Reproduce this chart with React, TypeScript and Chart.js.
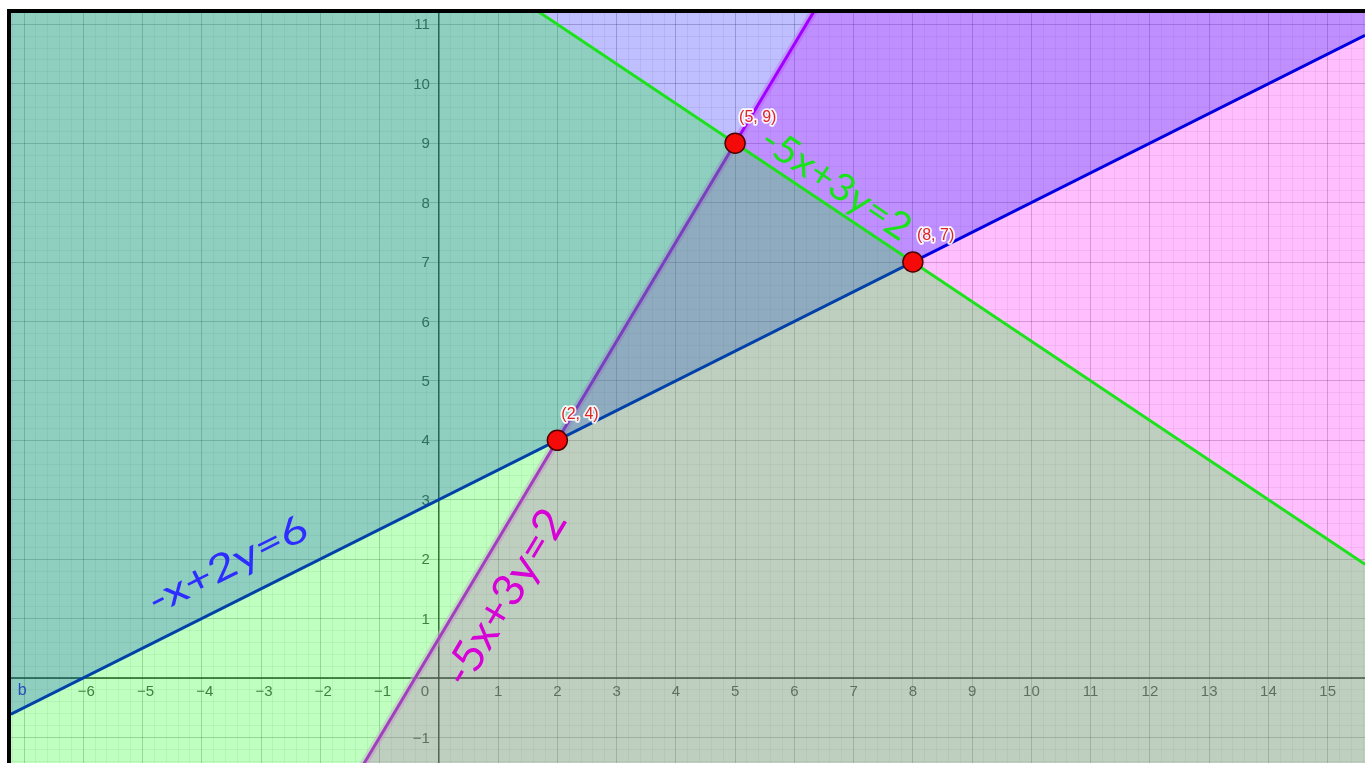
import React, { useEffect, useRef } from "react";
import { Chart, registerables } from "chart.js";

Chart.register(...registerables);

// visible window of the graph (data units)
const xView = [-7.22, 15.63];
const yView = [-1.43, 11.19];

// axis tick labels
const xTickValues = [-6, -5, -4, -3, -2, -1, 0, 1, 2, 3, 4, 5, 6, 7, 8, 9, 10, 11, 12, 13, 14, 15];
const yTickValues = [-1, 1, 2, 3, 4, 5, 6, 7, 8, 9, 10, 11];

// lines as [a, b, c] meaning a*x + b*y = c
const blueLine = [-1, 2, 6];
const purpleLine = [-5, 3, 2];
const greenLine = [2, 3, 37];

// intersection points
const vertexX = [2, 5, 8];
const vertexY = [4, 9, 7];
const vertexLabels = ["(2, 4)", "(5, 9)", "(8, 7)"];

// handwritten line labels
const lineLabelTexts = ["-x+2y=6", "-5x+3y=2", "-5x+3y=2"];

const endpoints = (coef: number[]) =>
  xView.map((x) => ({ x, y: (coef[2] - coef[0] * x) / coef[1] }));

const labelStyles = [
  { line: blueLine, cx: -3.56, cy: 1.9, len: 174, size: 38, color: "rgb(45,45,255)" },
  { line: purpleLine, cx: 1.12, cy: 1.35, len: 198, size: 44, color: "rgb(215,0,215)" },
  { line: greenLine, cx: 6.7, cy: 8.31, len: 172, size: 38, color: "rgb(25,228,25)" },
];

const decor = {
  id: "decor",
  beforeDatasetsDraw(chart: any) {
    const { ctx, chartArea: a, scales } = chart;
    const x = scales.x, y = scales.y;
    const x0 = x.getPixelForValue(0);
    const y0 = y.getPixelForValue(0);
    ctx.save();
    ctx.strokeStyle = "#2a2a2a";
    ctx.lineWidth = 1.3;
    ctx.beginPath();
    ctx.moveTo(a.left, y0);
    ctx.lineTo(a.right, y0);
    ctx.moveTo(x0, a.top);
    ctx.lineTo(x0, a.bottom);
    ctx.stroke();

    ctx.font = '15px "Liberation Sans", Arial, sans-serif';
    ctx.fillStyle = "#555";
    ctx.textAlign = "center";
    ctx.textBaseline = "middle";
    xTickValues.forEach((v) => {
      const t = v < 0 ? "\u2212" + Math.abs(v) : String(v);
      let px = x.getPixelForValue(v) + (v < 0 ? 3 : 0);
      if (v === 0) px = x0 - 14;
      ctx.fillText(t, px, y0 + 14);
    });
    ctx.textAlign = "right";
    yTickValues.forEach((v) => {
      const t = v < 0 ? "\u2212" + Math.abs(v) : String(v);
      ctx.fillText(t, x0 - 9, y.getPixelForValue(v) + 1);
    });
    ctx.restore();
  },
  afterDatasetsDraw(chart: any) {
    const { ctx, scales } = chart;
    const x = scales.x, y = scales.y;
    ctx.save();
    // "b" label near the left end of the x axis
    ctx.font = '16px "Liberation Sans", Arial, sans-serif';
    ctx.fillStyle = "rgb(40,75,190)";
    ctx.textAlign = "center";
    ctx.textBaseline = "middle";
    ctx.fillText("b", x.getPixelForValue(-7.03), y.getPixelForValue(0) + 13);

    // line labels
    labelStyles.forEach((s, i) => {
      const [aa, bb, cc] = s.line;
      const p1x = x.getPixelForValue(0), p1y = y.getPixelForValue(cc / bb);
      const p2x = x.getPixelForValue(1), p2y = y.getPixelForValue((cc - aa) / bb);
      const ang = Math.atan2(p2y - p1y, p2x - p1x);
      ctx.save();
      ctx.translate(x.getPixelForValue(s.cx), y.getPixelForValue(s.cy));
      ctx.rotate(ang);
      ctx.font = `400 ${s.size}px Lato, "Open Sans", sans-serif`;
      const w = ctx.measureText(lineLabelTexts[i]).width;
      ctx.scale(s.len / w, 1);
      ctx.fillStyle = s.color;
      ctx.textAlign = "center";
      ctx.textBaseline = "middle";
      ctx.fillText(lineLabelTexts[i], 0, 0);
      ctx.restore();
    });

    // point labels
    ctx.font = '16px "Liberation Sans", Arial, sans-serif';
    ctx.textAlign = "left";
    ctx.textBaseline = "middle";
    ctx.lineJoin = "round";
    vertexLabels.forEach((t, i) => {
      const px = x.getPixelForValue(vertexX[i]) + 4;
      const py = y.getPixelForValue(vertexY[i]) - 26;
      ctx.lineWidth = 3.5;
      ctx.strokeStyle = "rgba(255,255,255,0.9)";
      ctx.strokeText(t, px, py);
      ctx.fillStyle = "rgb(225,35,35)";
      ctx.fillText(t, px, py);
    });
    ctx.restore();
  },
  afterDraw(chart: any) {
    const { ctx, width, height } = chart;
    ctx.save();
    ctx.fillStyle = "#000";
    ctx.fillRect(7, 9, width - 7, 4);
    ctx.fillRect(7, 9, 4, height - 9);
    ctx.restore();
  },
};

export default function App() {
  const ref = useRef<HTMLCanvasElement>(null);
  useEffect(() => {
    if (!ref.current) return;
    const chart = new Chart(ref.current, {
      type: "line",
      data: {
        datasets: [
          {
            label: "vertices",
            data: vertexX.map((vx, i) => ({ x: vx, y: vertexY[i] })),
            showLine: false,
            pointRadius: 10,
            pointBackgroundColor: "rgb(245,10,10)",
            pointBorderColor: "#4a0000",
            pointBorderWidth: 1.5,
            fill: false,
          },
          {
            label: "green",
            data: endpoints(greenLine),
            borderColor: "rgb(30,225,30)",
            borderWidth: 3,
            backgroundColor: "rgba(0,255,0,0.25)",
            fill: "start",
            pointRadius: 0,
          },
          {
            label: "blue",
            data: endpoints(blueLine),
            borderColor: "rgb(0,0,225)",
            borderWidth: 3,
            backgroundColor: "rgba(0,0,255,0.25)",
            fill: "end",
            pointRadius: 0,
          },
          {
            label: "purple",
            data: endpoints(purpleLine),
            borderColor: "rgb(215,0,255)",
            borderWidth: 3,
            backgroundColor: "rgba(255,0,255,0.25)",
            fill: "start",
            pointRadius: 0,
          },
          {
            label: "purpleHalo",
            data: endpoints(purpleLine),
            borderColor: "rgba(255,170,255,0.55)",
            borderWidth: 8,
            fill: false,
            pointRadius: 0,
          },
        ],
      },
      options: {
        responsive: false,
        animation: false,
        devicePixelRatio: 1,
        layout: { autoPadding: false, padding: { left: 11, top: 13, right: 0, bottom: 0 } },
        plugins: { legend: { display: false }, tooltip: { enabled: false } },
        elements: { line: { tension: 0 } },
        scales: {
          x: {
            type: "linear",
            min: xView[0],
            max: xView[1],
            ticks: { display: false, stepSize: 1, includeBounds: false },
            grid: { color: "rgba(0,0,0,0.17)", drawTicks: false },
            border: { display: false },
          },
          y: {
            type: "linear",
            min: yView[0],
            max: yView[1],
            ticks: { display: false, stepSize: 1, includeBounds: false },
            grid: { color: "rgba(0,0,0,0.17)", drawTicks: false },
            border: { display: false },
          },
          xMinor: {
            type: "linear",
            axis: "x",
            position: "bottom",
            min: xView[0],
            max: xView[1],
            ticks: { display: false, stepSize: 0.2, includeBounds: false },
            grid: { color: "rgba(0,0,0,0.06)", drawTicks: false },
            border: { display: false },
          },
          yMinor: {
            type: "linear",
            axis: "y",
            position: "left",
            min: yView[0],
            max: yView[1],
            ticks: { display: false, stepSize: 0.2, includeBounds: false },
            grid: { color: "rgba(0,0,0,0.06)", drawTicks: false },
            border: { display: false },
          },
        },
      } as any,
      plugins: [decor],
    });
    return () => chart.destroy();
  }, []);
  return (
    <div style={{ position: "fixed", left: 0, top: 0, width: 1365, height: 763, background: "#fff" }}>
      <canvas ref={ref} width={1365} height={763} style={{ display: "block" }} />
    </div>
  );
}
